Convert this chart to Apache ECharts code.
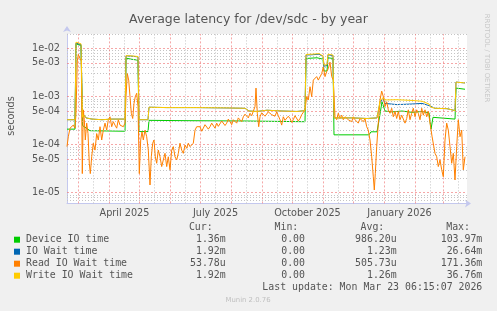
<!DOCTYPE html>
<html>
<head>
<meta charset="utf-8">
<script src="https://cdn.jsdelivr.net/npm/echarts@6/dist/echarts.min.js"></script>
<style>
html, body { margin: 0; padding: 0; background: #f0f0f0; }
#main { width: 497px; height: 311px; }
</style>
</head>
<body>
<div id="main"></div>
<script>
var DAY = 86400000;
var t0 = new Date(2025, 1, 17, 12).getTime();
var tEnd = t0 + 400 * DAY;

var seriesNames = ['Device IO time', 'IO Wait time', 'Read IO Wait time', 'Write IO Wait time'];
var seriesColors = ['#00cc00', '#0066b3', '#ff8000', '#ffcc00'];

// [days since start of graph, seconds]
var deviceIO = [[0,2.1e-4],[8,2.1e-4],[9,1.25e-2],[10,1.15e-2],[14,1.15e-2],[15.5,2.5e-4],[18,2.3e-4],[23,1.95e-4],[58,1.9e-4],[59,6.3e-3],[64,6.0e-3],[71,5.7e-3],[72,1.87e-4],[81,1.87e-4],[82,3.2e-4],[120,3.15e-4],[180,3.1e-4],[238,3.0e-4],[239,6.2e-3],[250,6.4e-3],[256,6.0e-3],[257,3.4e-3],[260,3.4e-3],[261,6.4e-3],[266,6.2e-3],[267,1.6e-4],[302,1.6e-4],[304,1.85e-4],[310,1.85e-4],[312,3.2e-4],[315,7.8e-4],[318,5.0e-4],[325,4.8e-4],[335,5.0e-4],[345,4.7e-4],[355,4.9e-4],[362,4.6e-4],[364,2.1e-4],[366,3.7e-4],[388,3.4e-4],[389,1.5e-3],[398,1.42e-3]];

var ioWait = [[0,3.3e-4],[8,3.3e-4],[9,1.3e-2],[10,1.25e-2],[14,1.2e-2],[15.5,3.7e-4],[17,4.1e-4],[19,3.6e-4],[25,3.4e-4],[35,3.3e-4],[45,3.4e-4],[58,3.4e-4],[59,7.0e-3],[65,6.9e-3],[71,6.7e-3],[72,3.3e-4],[81,3.3e-4],[82,6.0e-4],[100,5.9e-4],[130,5.9e-4],[160,5.8e-4],[178,5.7e-4],[182,5.0e-4],[190,4.9e-4],[200,5.2e-4],[215,5.0e-4],[230,4.9e-4],[238,5.1e-4],[239,7.3e-3],[245,7.4e-3],[252,7.6e-3],[256,6.8e-3],[257,4.3e-3],[260,4.4e-3],[261,7.4e-3],[266,7.1e-3],[267,3.6e-4],[285,3.6e-4],[300,3.5e-4],[310,3.6e-4],[313,7.5e-4],[316,9.0e-4],[318,7.2e-4],[330,6.8e-4],[345,7.0e-4],[355,7.2e-4],[362,6.5e-4],[364,6.0e-4],[368,5.7e-4],[380,5.6e-4],[388,5.1e-4],[389,2.0e-3],[398,1.92e-3]];

var readWait = [[0,9.1e-5],[1.3,1.46e-4],[3,2.2e-4],[4.7,2.4e-4],[6.3,2.55e-4],[8,2.2e-4],[9,4.5e-4],[10.3,5.5e-3],[11.3,7.5e-3],[13,6.2e-3],[14.3,5.5e-3],[15.3,2.5e-5],[16.3,5.3e-4],[17.3,3.3e-4],[18.3,1.25e-4],[19.7,2.8e-4],[21,1.7e-4],[22.3,4.1e-5],[23.3,2.5e-5],[24.7,5.6e-5],[26.3,1.07e-4],[28,7.7e-5],[29.7,1.7e-4],[31.3,1.25e-4],[33,2.36e-4],[34.7,1.25e-4],[36.3,2.0e-4],[38,2.8e-4],[39.7,2.0e-4],[41.3,3.3e-4],[43,3.8e-4],[44.7,2.36e-4],[46.3,3.0e-4],[48,2.55e-4],[49.7,2.2e-4],[51.3,3.3e-4],[53,2.55e-4],[54.7,2.8e-4],[56.3,2.36e-4],[58,2.8e-4],[59,1.0e-3],[60.3,3.0e-3],[61.7,2.2e-3],[63,1.0e-3],[64.3,4.5e-4],[65.7,3.5e-4],[67,7.2e-4],[68.3,1.0e-3],[69.7,1.17e-3],[71,6.2e-4],[72.3,2.5e-5],[73.7,1.25e-4],[75,1.85e-4],[76.3,1.25e-4],[78,2.0e-4],[79.7,1.46e-4],[81.3,7.7e-5],[83,1.45e-5],[84.3,5.6e-5],[85.7,1.07e-4],[87,1.25e-4],[88.3,5.6e-5],[89.7,4.1e-5],[91.3,7.7e-5],[93,5.6e-5],[94.7,3.5e-5],[96.3,4.8e-5],[98,6.6e-5],[99.7,3.5e-5],[101.3,5.6e-5],[103,3.0e-5],[104.7,7.7e-5],[106.3,9.1e-5],[108,5.6e-5],[109.7,4.8e-5],[111.3,6.6e-5],[113,1.07e-4],[114.7,7.7e-5],[116.3,6.6e-5],[118,9.8e-5],[119.7,8.4e-5],[121.3,1.07e-4],[123,9.1e-5],[124.7,9.8e-5],[126.3,1.07e-4],[128,2.0e-4],[129.7,2.36e-4],[131.3,2.2e-4],[133,2.36e-4],[134.7,1.9e-4],[136.3,2.2e-4],[138,2.6e-4],[139.7,2.55e-4],[141.3,2.1e-4],[143,2.36e-4],[144.7,2.8e-4],[146.3,2.55e-4],[148,2.2e-4],[149.7,2.8e-4],[151.3,2.4e-4],[153,2.55e-4],[154.7,3.1e-4],[156.3,3.0e-4],[158,2.5e-4],[159.7,2.8e-4],[161.3,3.4e-4],[163,3.0e-4],[164.7,2.6e-4],[166.3,3.3e-4],[168,3.0e-4],[169.7,2.8e-4],[171.3,3.6e-4],[173,3.5e-4],[174.7,3.0e-4],[176.3,3.8e-4],[178,4.3e-4],[179.7,4.1e-4],[181.3,3.6e-4],[183,4.5e-4],[184.7,4.0e-4],[186.3,3.8e-4],[188,6.2e-4],[189,1.5e-3],[190.3,4.5e-4],[191.7,2.36e-4],[193,3.8e-4],[194.7,4.6e-4],[196.3,4.5e-4],[198,3.9e-4],[199.7,4.1e-4],[201.3,4.8e-4],[203,4.8e-4],[204.7,4.2e-4],[206.3,4.5e-4],[208,3.9e-4],[209.7,4.8e-4],[211.3,4.0e-4],[213,3.3e-4],[214.7,2.55e-4],[216.3,3.8e-4],[218,3.2e-4],[219.7,3.0e-4],[221.3,3.9e-4],[223,3.5e-4],[224.7,2.9e-4],[226.3,3.3e-4],[228,4.0e-4],[229.7,3.8e-4],[231.3,3.1e-4],[233,3.5e-4],[234.7,4.2e-4],[236.3,4.5e-4],[238,5.3e-4],[239.7,1.0e-3],[241.3,8.5e-4],[243,1.6e-3],[244.7,1.0e-3],[246.3,2.2e-3],[248,2.4e-3],[249.7,2.6e-3],[251.3,2.2e-3],[253,2.4e-3],[254.7,3.0e-3],[256.3,4.1e-3],[258,2.6e-3],[259.7,3.3e-3],[261.3,3.8e-3],[263,5.2e-3],[264.7,2.6e-3],[266.3,2.2e-3],[268,3.8e-4],[269.7,3.3e-4],[271.3,4.5e-4],[273,3.5e-4],[274.7,4.1e-4],[276.3,3.3e-4],[278,3.8e-4],[279.7,4.1e-4],[281.3,3.3e-4],[283,3.5e-4],[284.7,3.0e-4],[286.3,3.8e-4],[288,3.3e-4],[289.7,3.5e-4],[291.3,2.8e-4],[293,3.5e-4],[294.7,3.3e-4],[296.3,3.0e-4],[298,3.5e-4],[299.7,2.36e-4],[301.3,2.0e-4],[303,1.25e-4],[304.7,5.6e-5],[306.3,2.15e-5],[307.3,1.14e-5],[308.3,2.5e-5],[309.7,9.1e-5],[311.3,2.8e-4],[313,8.5e-4],[314.7,1.3e-3],[316.3,1.0e-3],[318,6.2e-4],[319.7,7.8e-4],[321.3,5.3e-4],[323,4.5e-4],[324.7,5.7e-4],[326.3,3.8e-4],[328,4.9e-4],[329.7,3.5e-4],[331.3,4.9e-4],[333,3.3e-4],[334.7,4.1e-4],[336.3,3.8e-4],[338,2.8e-4],[339.7,3.5e-4],[341.3,5.3e-4],[343,3.3e-4],[344.7,4.5e-4],[346.3,5.7e-4],[348,3.8e-4],[349.7,5.3e-4],[351.3,4.5e-4],[353,3.3e-4],[354.7,5.7e-4],[356.3,4.1e-4],[358,5.3e-4],[359.7,3.8e-4],[361.3,4.9e-4],[363,4.5e-4],[365,1.5e-4],[368,6.6e-5],[369.7,5.6e-5],[371.3,3.5e-5],[373,4.8e-5],[374.7,3.0e-5],[376.3,2.15e-5],[378,1.25e-4],[379.7,2.8e-4],[381.3,2.0e-4],[383,9.1e-5],[384.7,4.1e-5],[386.3,6.6e-5],[388,1.84e-5],[389.7,9.1e-5],[391.3,3.3e-4],[393,1.46e-4],[394.7,2.0e-4],[396.3,3.0e-5],[398,5.6e-5]];

var writeWait = [[0,3.3e-4],[8,3.3e-4],[9,1.35e-2],[10,1.3e-2],[14,1.25e-2],[15.5,3.7e-4],[17,4.1e-4],[19,3.6e-4],[25,3.4e-4],[35,3.3e-4],[45,3.4e-4],[58,3.4e-4],[59,7.1e-3],[65,7.0e-3],[71,6.8e-3],[72,3.3e-4],[81,3.3e-4],[82,6.0e-4],[100,5.9e-4],[130,5.9e-4],[160,5.8e-4],[178,5.7e-4],[182,5.0e-4],[190,4.9e-4],[200,5.2e-4],[215,5.0e-4],[230,4.9e-4],[238,5.1e-4],[239,7.5e-3],[245,7.6e-3],[252,7.8e-3],[256,7.0e-3],[257,4.5e-3],[260,4.6e-3],[261,7.6e-3],[266,7.3e-3],[267,3.6e-4],[285,3.6e-4],[300,3.5e-4],[310,3.6e-4],[313,8.0e-4],[316,9.5e-4],[318,8.5e-4],[330,8.6e-4],[345,8.3e-4],[355,8.0e-4],[362,7.0e-4],[364,6.0e-4],[368,5.7e-4],[380,5.6e-4],[388,5.1e-4],[389,2.0e-3],[398,1.92e-3]];

var curVals = ['1.36m', '1.92m', '53.78u', '1.92m'];
var minVals = ['0.00', '0.00', '0.00', '0.00'];
var avgVals = ['986.20u', '1.23m', '505.73u', '1.26m'];
var maxVals = ['103.97m', '26.64m', '171.36m', '36.76m'];

var yTickValues = [1e-5, 5e-5, 1e-4, 5e-4, 1e-3, 5e-3, 1e-2];
var xLabelDates = [new Date(2025, 3, 16).getTime(), new Date(2025, 6, 16).getTime(), new Date(2025, 9, 16).getTime(), new Date(2026, 0, 16).getTime()];
var monthNames = ['January', 'February', 'March', 'April', 'May', 'June', 'July', 'August', 'September', 'October', 'November', 'December'];

var yMin = 6e-6, yMax = 0.02;
var majorColor = 'rgba(240,120,120,0.65)';
var minorColor = '#c4c4c4';
var axisColor = '#c4c8ee';
var textColor = '#555';

function toPoints(arr) {
    return arr.map(function (p) { return [t0 + p[0] * DAY, p[1]]; });
}

// grid lines
var gridLines = [];
for (var e = -6; e <= -2; e++) {
    for (var k = 1; k <= 9; k++) {
        var v = k * Math.pow(10, e);
        if (v <= yMin * 1.001 || v > yMax * 1.001) continue;
        var major = (k === 1 || k === 5);
        gridLines.push({ yAxis: v, lineStyle: { color: major ? majorColor : minorColor, type: major ? [2, 2] : [1, 2], width: 1 } });
    }
}
for (var i = 0; i < 15; i++) {
    var ms = new Date(2025, 1 + i, 1).getTime();
    var mid = new Date(2025, 1 + i, 16).getTime();
    if (ms > t0 && ms < tEnd) gridLines.push({ xAxis: ms, lineStyle: { color: majorColor, type: [2, 2], width: 1 } });
    if (mid > t0 && mid < tEnd) gridLines.push({ xAxis: mid, lineStyle: { color: minorColor, type: [1, 2], width: 1 } });
}

var graphics = [
    { type: 'text', x: 248.5, y: 19.5, style: { text: 'Average latency for /dev/sdc - by year', fontFamily: 'DejaVu Sans', fontSize: 12.5, fill: textColor, align: 'center', verticalAlign: 'middle' } },
    { type: 'text', x: 11, y: 116, rotation: Math.PI / 2, style: { text: 'seconds', fontFamily: 'DejaVu Sans', fontSize: 9.7, fill: textColor, align: 'center', verticalAlign: 'middle' } },
    { type: 'text', x: 487, y: 58, rotation: -Math.PI / 2, style: { text: 'RRDTOOL / TOBI OETIKER', fontFamily: 'DejaVu Sans', fontSize: 6.9, fill: '#c8c8c8', align: 'center', verticalAlign: 'middle' } },
    { type: 'text', x: 248, y: 300, style: { text: 'Munin 2.0.76', fontFamily: 'DejaVu Sans', fontSize: 6.9, fill: '#c0c0c0', align: 'center', verticalAlign: 'middle' } }
];
var mono = { fontFamily: 'DejaVu Sans Mono', fontSize: 9.9, fill: textColor };
function monoText(txt, x, y, align) {
    return { type: 'text', x: x, y: y, style: echarts.util.extend({ text: txt, align: align, verticalAlign: 'middle' }, mono) };
}
var headers = ['Cur:', 'Min:', 'Avg:', 'Max:'];
var headerRight = [212.7, 298.3, 384.3, 470];
var valueRight = [225.7, 305, 396.7, 482.3];
headers.forEach(function (h, j) { graphics.push(monoText(h, headerRight[j], 227.7, 'right')); });
var cols = [curVals, minVals, avgVals, maxVals];
seriesNames.forEach(function (name, r) {
    var y = 239.7 + r * 12;
    graphics.push({ type: 'rect', shape: { x: 14, y: y - 3, width: 6, height: 6 }, style: { fill: seriesColors[r] } });
    graphics.push(monoText(name, 26, y, 'left'));
    cols.forEach(function (col, j) { graphics.push(monoText(col[r], valueRight[j], y, 'right')); });
});
graphics.push(monoText('Last update: Mon Mar 23 06:15:07 2026', 482.3, 287.7, 'right'));

var myChart = echarts.init(document.getElementById('main'));

var series = [{
    type: 'line',
    data: [[t0, 1e-3]],
    showSymbol: false,
    lineStyle: { opacity: 0 },
    z: 1,
    silent: true,
    markLine: {
        silent: true,
        precision: 12,
        symbol: ['none', 'none'],
        label: { show: false },
        emphasis: { disabled: true },
        animation: false,
        data: gridLines
    }
}];
[deviceIO, ioWait, readWait, writeWait].forEach(function (arr, i) {
    series.push({
        name: seriesNames[i],
        type: 'line',
        data: toPoints(arr),
        showSymbol: false,
        color: seriesColors[i],
        lineStyle: { width: 1, color: seriesColors[i] },
        z: 3 + i,
        animation: false
    });
});

var option = {
    backgroundColor: '#f0f0f0',
    animation: false,
    grid: { left: 67, right: 30, top: 34, bottom: 107.6, show: true, backgroundColor: '#ffffff', borderWidth: 0 },
    xAxis: {
        type: 'value',
        min: t0,
        max: tEnd,
        splitLine: { show: false },
        axisTick: { show: false },
        axisLine: { onZero: false, lineStyle: { color: axisColor, width: 1 }, symbol: ['none', 'arrow'], symbolSize: [6, 6], symbolOffset: [0, 4] },
        axisLabel: {
            customValues: xLabelDates,
            margin: 5,
            color: textColor,
            fontFamily: 'DejaVu Sans',
            fontSize: 9.7,
            formatter: function (v) { var d = new Date(v); return monthNames[d.getMonth()] + ' ' + d.getFullYear(); }
        }
    },
    yAxis: {
        type: 'log',
        logBase: 10,
        min: yMin,
        max: yMax,
        splitLine: { show: false },
        axisTick: { show: false },
        axisLine: { show: true, onZero: false, lineStyle: { color: axisColor, width: 1 }, symbol: ['none', 'arrow'], symbolSize: [6, 6], symbolOffset: [0, 8] },
        axisLabel: {
            customValues: yTickValues,
            margin: 7,
            color: textColor,
            fontFamily: 'DejaVu Sans',
            fontSize: 9.7,
            formatter: function (v) {
                var ex = Math.floor(Math.log10(v) + 1e-9);
                var m = Math.round(v / Math.pow(10, ex));
                return m + 'e-' + String(-ex).padStart(2, '0');
            }
        }
    },
    graphic: graphics,
    series: series
};

myChart.setOption(option);
</script>
</body>
</html>
